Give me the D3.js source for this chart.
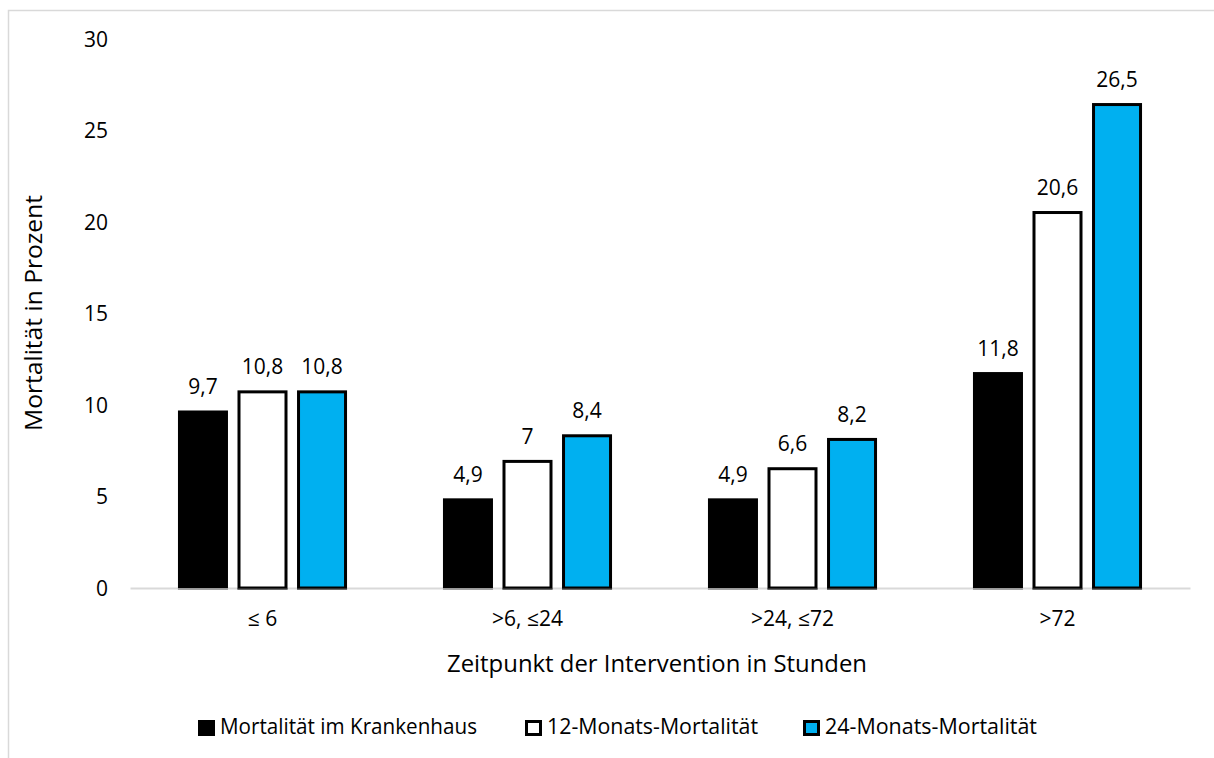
<!DOCTYPE html>
<html>
<head>
<meta charset="utf-8">
<script src="https://cdn.jsdelivr.net/npm/d3@7"></script>
<style>
  body { margin: 0; background: #fff; }
  text { font-family: "Open Sans", "Noto Sans", sans-serif; fill: #000; }
</style>
</head>
<body>
<div id="chart"></div>
<script>
var categories = ["≤ 6", ">6, ≤24", ">24, ≤72", ">72"];
var seriesNames = ["Mortalität im Krankenhaus", "12-Monats-Mortalität", "24-Monats-Mortalität"];
var hospital = [9.7, 4.9, 4.9, 11.8];
var month12 = [10.8, 7, 6.6, 20.6];
var month24 = [10.8, 8.4, 8.2, 26.5];
var yTicks = [0, 5, 10, 15, 20, 25, 30];

var seriesValues = [hospital, month12, month24];
var seriesFill = ["#000000", "#ffffff", "#00b0f0"];

var width = 1214, height = 758;
var plotLeft = 130, plotRight = 1190, plotTop = 39, plotBottom = 588;

var svg = d3.select("#chart").append("svg")
  .attr("width", width)
  .attr("height", height);

svg.append("rect")
  .attr("width", width).attr("height", height)
  .attr("fill", "#fff");

// chart frame, only left and top edges are visible in the picture
svg.append("rect")
  .attr("x", 8.5).attr("y", 10.5)
  .attr("width", 1240).attr("height", 800)
  .attr("fill", "none")
  .attr("stroke", "#d9d9d9")
  .attr("stroke-width", 1.5);

var y = d3.scaleLinear()
  .domain([0, 30])
  .range([plotBottom, plotTop]);

var x0 = d3.scaleBand()
  .domain(categories)
  .range([plotLeft, plotRight])
  .paddingInner(0.362)
  .paddingOuter(0.181);

var x1 = d3.scaleBand()
  .domain(d3.range(seriesNames.length))
  .range([0, x0.bandwidth()])
  .paddingInner(0.16);

// y axis labels
var yAxis = svg.append("g")
  .attr("transform", "translate(108,0)")
  .call(d3.axisLeft(y).tickValues(yTicks).tickSize(0).tickPadding(0));
yAxis.select(".domain").remove();
yAxis.selectAll("text")
  .style("font-family", "'Open Sans', sans-serif")
  .style("font-size", "21px")
  .attr("dy", "0.35em");

// x axis baseline + labels
var xAxis = svg.append("g")
  .attr("transform", "translate(0," + plotBottom + ")")
  .call(d3.axisBottom(x0).tickSize(0).tickPadding(0));
xAxis.select(".domain")
  .attr("stroke", "#d9d9d9")
  .attr("stroke-width", 2);
xAxis.selectAll("text")
  .style("font-family", "'Open Sans', sans-serif")
  .style("font-size", "21px")
  .attr("y", 38)
  .attr("dy", 0);

var rows = [];
seriesValues.forEach(function(vals, s) {
  vals.forEach(function(v, i) {
    rows.push({ s: s, cat: categories[i], v: v });
  });
});

var bars = svg.append("g");

bars.selectAll("rect")
  .data(rows)
  .enter().append("rect")
  .attr("x", function(d) { return x0(d.cat) + x1(d.s) + (d.s ? 1.5 : 0); })
  .attr("y", function(d) { return y(d.v) + (d.s ? 1.5 : 0); })
  .attr("width", function(d) { return x1.bandwidth() - (d.s ? 3 : 0); })
  .attr("height", function(d) { return y(0) - y(d.v) - (d.s ? 1.5 : 0); })
  .attr("fill", function(d) { return seriesFill[d.s]; })
  .attr("stroke", function(d) { return d.s ? "#000" : "none"; })
  .attr("stroke-width", 3);

// thin dark line under each bar, like in the original
bars.selectAll("line")
  .data(rows)
  .enter().append("line")
  .attr("x1", function(d) { return x0(d.cat) + x1(d.s); })
  .attr("x2", function(d) { return x0(d.cat) + x1(d.s) + x1.bandwidth(); })
  .attr("y1", plotBottom + 1)
  .attr("y2", plotBottom + 1)
  .attr("stroke", "#595959")
  .attr("stroke-width", 1);

// value labels
svg.append("g").selectAll("text")
  .data(rows)
  .enter().append("text")
  .attr("x", function(d) { return x0(d.cat) + x1(d.s) + x1.bandwidth() / 2; })
  .attr("y", function(d) { return y(d.v) - 16; })
  .attr("text-anchor", "middle")
  .style("font-size", "21px")
  .text(function(d) { return String(d.v).replace(".", ","); });

// axis titles
svg.append("text")
  .attr("transform", "translate(42," + 313 + ") rotate(-90)")
  .attr("text-anchor", "middle")
  .attr("textLength", 236)
  .attr("lengthAdjust", "spacingAndGlyphs")
  .style("font-size", "23px")
  .text("Mortalität in Prozent");

svg.append("text")
  .attr("x", 657)
  .attr("y", 672)
  .attr("text-anchor", "middle")
  .attr("textLength", 420)
  .attr("lengthAdjust", "spacingAndGlyphs")
  .style("font-size", "23px")
  .text("Zeitpunkt der Intervention in Stunden");

// legend
var legendX = [198, 525, 803];
var legendTextLen = [257, 211, 212];
var legend = svg.append("g").selectAll("g")
  .data(seriesNames)
  .enter().append("g")
  .attr("transform", function(d, i) { return "translate(" + legendX[i] + ",720)"; });

legend.append("rect")
  .attr("x", function(d, i) { return i ? 1.5 : 0; })
  .attr("y", function(d, i) { return i ? 1.5 : 0; })
  .attr("width", function(d, i) { return i ? 14 : 17; })
  .attr("height", function(d, i) { return i ? 13 : 16; })
  .attr("fill", function(d, i) { return seriesFill[i]; })
  .attr("stroke", function(d, i) { return i ? "#000" : "none"; })
  .attr("stroke-width", 3);

legend.append("text")
  .attr("x", 22)
  .attr("y", 14)
  .attr("textLength", function(d, i) { return legendTextLen[i]; })
  .attr("lengthAdjust", "spacingAndGlyphs")
  .style("font-size", "21px")
  .text(function(d) { return d; });
</script>
</body>
</html>
